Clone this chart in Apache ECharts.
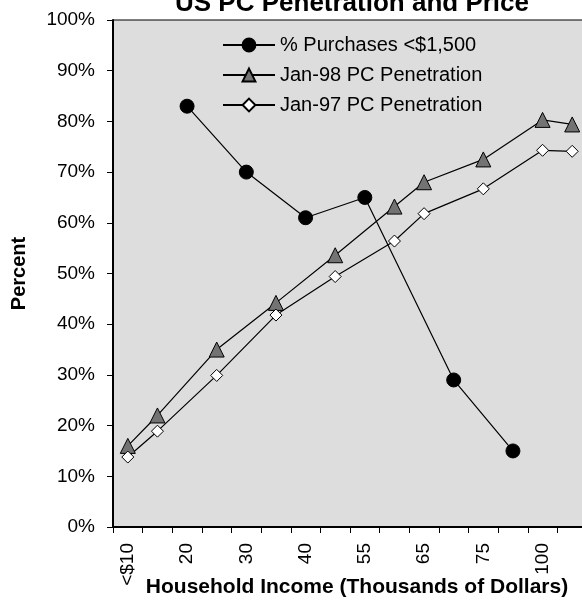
<!DOCTYPE html>
<html>
<head>
<meta charset="utf-8">
<script src="https://cdn.jsdelivr.net/npm/echarts@6/dist/echarts.min.js"></script>
<style>
  html, body { margin: 0; padding: 0; background: #fff; }
  #chart { width: 582px; height: 600px; }
</style>
</head>
<body>
<div id="chart"></div>
<script>
// Income brackets (thousands of dollars); only every other bracket carries a label
const incomeLabels = ['<$10', '', '20', '', '30', '', '40', '', '55', '', '65', '', '75', '', '100', ''];

// Share of purchases under $1,500 (%)
const purchasesUnder1500 = [null, null, 83, null, 70, null, 61, null, 65, null, null, 29, null, 15, null, null];
// PC penetration by household income, January 1998 (%)
const penetrationJan98 = [16, 22, null, 35, null, 44.2, null, 53.6, null, 63.2, 68, null, 72.5, null, 80.3, 79.4];
// PC penetration by household income, January 1997 (%)
const penetrationJan97 = [13.8, 18.9, null, 29.9, null, 41.8, null, 49.4, null, 56.4, 61.8, null, 66.7, null, 74.3, 74.1];

const percentTicks = { min: 0, max: 100, interval: 10 };

const FONT = '"Liberation Sans", Arial, sans-serif';

const chart = echarts.init(document.getElementById('chart'), null, { renderer: 'canvas' });

const lineSeries = (name, data, symbol, size, fill) => ({
  name,
  type: 'line',
  data,
  connectNulls: true,
  symbol,
  symbolSize: size,
  showAllSymbol: true,
  lineStyle: { color: '#000', width: 1.2 },
  itemStyle: { color: fill, borderColor: '#000', borderWidth: 1 },
  emphasis: { disabled: true },
  animation: false
});

chart.setOption({
  backgroundColor: '#ffffff',
  animation: false,
  textStyle: { fontFamily: FONT },
  graphic: [{
    type: 'text',
    x: 352,
    y: -9,
    style: {
      text: 'US PC Penetration and Price',
      font: 'bold 26px ' + FONT,
      fill: '#000',
      textAlign: 'center',
      textVerticalAlign: 'top'
    }
  }],
  grid: {
    left: 113,
    top: 20,
    width: 474,
    height: 507,
    show: true,
    backgroundColor: '#dddddd',
    borderColor: '#000',
    borderWidth: 1,
    containLabel: false,
    outerBoundsMode: 'none'
  },
  legend: {
    orient: 'vertical',
    left: 222,
    top: 35,
    padding: 0,
    itemWidth: 52,
    itemHeight: 16,
    itemGap: 10,
    textStyle: { fontSize: 20, color: '#000', fontFamily: FONT },
    data: ['% Purchases <$1,500', 'Jan-98 PC Penetration', 'Jan-97 PC Penetration']
  },
  xAxis: {
    type: 'category',
    data: incomeLabels,
    boundaryGap: true,
    name: 'Household Income (Thousands of Dollars)',
    nameLocation: 'middle',
    nameGap: 50,
    nameMoveOverlap: false,
    nameTextStyle: { fontSize: 21, fontWeight: 'bold', color: '#000', fontFamily: FONT, padding: [0, 0, 0, 14] },
    axisLine: { lineStyle: { color: '#000', width: 2 } },
    axisTick: { show: true, interval: 0, length: 6, lineStyle: { color: '#000', width: 1 } },
    axisLabel: { interval: 0, rotate: 90, margin: 16, fontSize: 19, color: '#000', fontFamily: FONT },
    splitLine: { show: false }
  },
  yAxis: {
    type: 'value',
    min: percentTicks.min,
    max: percentTicks.max,
    interval: percentTicks.interval,
    name: 'Percent',
    nameLocation: 'middle',
    nameGap: 84,
    nameMoveOverlap: false,
    nameTextStyle: { fontSize: 20, fontWeight: 'bold', color: '#000', fontFamily: FONT },
    axisLine: { show: true, lineStyle: { color: '#000', width: 2 } },
    axisTick: { show: true, length: 6, lineStyle: { color: '#000', width: 1 } },
    axisLabel: { formatter: '{value}%', margin: 18, fontSize: 19, color: '#000', fontFamily: FONT },
    splitLine: { show: false }
  },
  series: [
    lineSeries('% Purchases <$1,500', purchasesUnder1500, 'circle', 14, '#000'),
    lineSeries('Jan-98 PC Penetration', penetrationJan98, 'triangle', 15, '#737373'),
    lineSeries('Jan-97 PC Penetration', penetrationJan97, 'diamond', 12, '#ffffff')
  ]
});
</script>
</body>
</html>
